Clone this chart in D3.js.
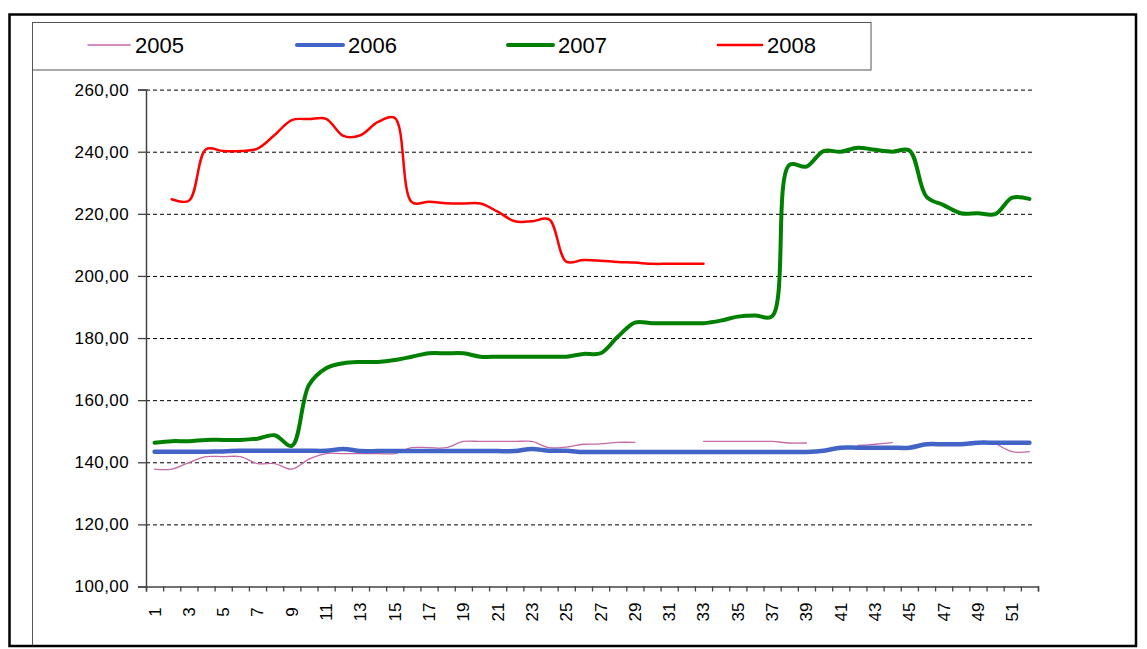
<!DOCTYPE html>
<html>
<head>
<meta charset="utf-8">
<script src="https://cdn.jsdelivr.net/npm/d3@7"></script>
<style>
  html, body { margin: 0; padding: 0; background: #fff; }
  svg { display: block; font-family: "Liberation Sans", Arial, sans-serif; }
</style>
</head>
<body>
<svg id="chart" width="1147" height="649"></svg>
<script>
// ---- data ----
const weeks = d3.range(1, 53);
const seriesNames = ["2005", "2006", "2007", "2008"];
const yTicks = [100, 120, 140, 160, 180, 200, 220, 240, 260];
const xTickLabels = d3.range(1, 53, 2);

const s2005 = [137.8, 137.8, 139.9, 141.8, 141.8, 141.8, 139.6, 139.6, 137.8, 141.0,
  142.8, 142.8, 142.8, 142.8, 142.8, 144.7, 144.7, 144.7, 146.7, 146.7,
  146.7, 146.7, 146.7, 144.7, 144.9, 145.8, 145.9, 146.4, 146.4, null,
  null, null, 146.7, 146.7, 146.7, 146.7, 146.7, 146.2, 146.2, null,
  null, 145.4, 145.8, 146.3, null, null, null, null, null, 146.2,
  143.4, 143.4];
const s2006 = [143.4, 143.4, 143.4, 143.4, 143.5, 143.7, 143.7, 143.7, 143.7, 143.7,
  143.7, 144.3, 143.6, 143.6, 143.6, 143.6, 143.6, 143.6, 143.6, 143.6,
  143.6, 143.6, 144.3, 143.7, 143.7, 143.3, 143.3, 143.3, 143.3, 143.3,
  143.3, 143.3, 143.3, 143.3, 143.3, 143.3, 143.3, 143.3, 143.3, 143.7,
  144.7, 144.7, 144.7, 144.7, 144.7, 145.8, 145.8, 145.8, 146.3, 146.3,
  146.3, 146.3];
const s2007 = [146.3, 146.8, 146.8, 147.2, 147.2, 147.2, 147.6, 148.7, 145.3, 164.9,
  170.3, 171.9, 172.3, 172.3, 172.9, 174.0, 175.1, 175.1, 175.1, 174.0,
  174.0, 174.0, 174.0, 174.0, 174.0, 174.9, 175.1, 180.4, 185.0, 184.8,
  184.8, 184.8, 184.8, 185.6, 186.9, 187.3, 187.0, 235.7, 235.2, 240.2,
  240.0, 241.3, 240.6, 240.0, 240.4, 225.5, 222.8, 220.2, 220.2, 219.9,
  225.2, 224.8];
const s2008 = [null, 224.7, 224.2, 240.8, 240.2, 240.2, 241.0, 245.4, 250.2, 250.5,
  250.6, 245.1, 245.3, 249.5, 250.9, 223.7, 223.9, 223.4, 223.3, 223.3,
  220.7, 217.6, 217.6, 218.2, 204.6, 205.1, 204.9, 204.5, 204.3, 203.9,
  203.9, 203.9, 203.9, null, null, null, null, null, null, null,
  null, null, null, null, null, null, null, null, null, null,
  null, null];

const seriesValues = [s2005, s2006, s2007, s2008];
const seriesColors = ["#c46aa6", "#4264c6", "#008000", "#ff0000"];
const seriesWidths = [1.3, 4.5, 4, 2.5];

// ---- layout ----
const svg = d3.select("#chart");
const plotLeft = 146, plotRight = 1038, plotTop = 89.6, plotBottom = 586.5;

// frames
svg.append("rect").attr("x", 9.5).attr("y", 14.5).attr("width", 1126.5).attr("height", 631.5)
  .attr("fill", "#fff").attr("stroke", "#000").attr("stroke-width", 2.5);
svg.append("line").attr("x1", 32.5).attr("x2", 32.5).attr("y1", 22).attr("y2", 645)
  .attr("stroke", "#555").attr("stroke-width", 1);
svg.append("rect").attr("x", 32.5).attr("y", 22.5).attr("width", 838.5).attr("height", 47.5)
  .attr("fill", "#fff").attr("stroke", "#555").attr("stroke-width", 1);

// scales
const y = d3.scaleLinear().domain([100, 260]).range([plotBottom, plotTop]);
const xBand = d3.scaleBand().domain(weeks).range([plotLeft, plotRight]).padding(0);
const xLin = d3.scaleLinear().domain([0, 52]).range([plotLeft, plotRight]);
const xc = w => xBand(w) + xBand.bandwidth() / 2;

// gridlines
const grid = svg.append("g").attr("transform", `translate(${plotLeft},0)`)
  .call(d3.axisLeft(y).tickValues(yTicks.filter(t => t > 100)).tickSize(-(1035 - plotLeft)).tickFormat(""));
grid.select(".domain").remove();
grid.selectAll("line").attr("stroke", "#000").attr("stroke-width", 1).attr("stroke-dasharray", "4,3");

// y axis
const yAxis = svg.append("g").attr("transform", `translate(${plotLeft},0)`)
  .call(d3.axisLeft(y).tickValues(yTicks).tickSize(8).tickPadding(9)
    .tickFormat(d => d3.format(".2f")(d).replace(".", ",")));
yAxis.select(".domain").attr("stroke", "#444").attr("stroke-width", 1.5);
yAxis.selectAll("line").attr("stroke", "#444").attr("stroke-width", 1.3);
yAxis.selectAll("text").attr("fill", "#000").style("font-size", "17px")
  .style("font-family", "'Liberation Sans', Arial, sans-serif").style("letter-spacing", "0.4px");

// x axis boundary ticks
const xTicksAxis = svg.append("g").attr("transform", `translate(0,${plotBottom})`)
  .call(d3.axisBottom(xLin).tickValues(d3.range(0, 53)).tickSize(5).tickFormat(""));
xTicksAxis.select(".domain").attr("stroke", "#444").attr("stroke-width", 1.5);
xTicksAxis.selectAll("line").attr("stroke", "#444").attr("stroke-width", 1.3);

// x labels
const xLabelAxis = svg.append("g").attr("transform", `translate(0,${plotBottom})`)
  .call(d3.axisBottom(xBand).tickValues(xTickLabels).tickSize(0));
xLabelAxis.select(".domain").remove();
xLabelAxis.selectAll("text")
  .attr("x", 0).attr("y", 0).attr("dy", "0.35em")
  .attr("transform", `translate(0,${612 - plotBottom}) rotate(-90)`)
  .style("text-anchor", "middle").attr("fill", "#000")
  .style("font-size", "17px").style("font-family", "'Liberation Sans', Arial, sans-serif");

// lines
const lineGen = d3.line()
  .defined(d => d.v != null)
  .x(d => xc(d.w))
  .y(d => y(d.v))
  .curve(d3.curveCatmullRom.alpha(0.5));

seriesValues.forEach((vals, i) => {
  const data = weeks.map((w, j) => ({ w, v: vals[j] }));
  svg.append("path").datum(data)
    .attr("d", lineGen)
    .attr("fill", "none")
    .attr("stroke", seriesColors[i])
    .attr("stroke-width", seriesWidths[i])
    .attr("stroke-linejoin", "round")
    .attr("stroke-linecap", "round");
});

// legend
const legendLineX = [88, 297, 508, 718];
const legendLineW = [42, 46, 45, 44];
const legendWidths = [1.5, 4, 4, 2.5];
const legend = svg.append("g");
seriesNames.forEach((name, i) => {
  legend.append("line")
    .attr("x1", legendLineX[i]).attr("x2", legendLineX[i] + legendLineW[i])
    .attr("y1", 45).attr("y2", 45)
    .attr("stroke", seriesColors[i]).attr("stroke-width", legendWidths[i])
    .attr("stroke-linecap", "round");
  legend.append("text")
    .attr("x", legendLineX[i] + legendLineW[i] + 5).attr("y", 53)
    .attr("fill", "#000").style("font-size", "22px")
    .style("font-family", "'Liberation Sans', Arial, sans-serif")
    .text(name);
});
</script>
</body>
</html>
